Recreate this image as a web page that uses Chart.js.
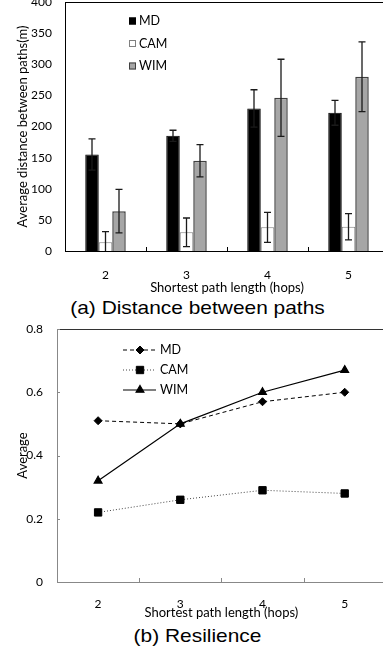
<!DOCTYPE html>
<html>
<head>
<meta charset="utf-8">
<script src="https://cdn.jsdelivr.net/npm/chart.js@4.4.1/dist/chart.umd.min.js"></script>
<style>
    body { margin: 0; width: 383px; height: 648px; overflow: hidden; background: #fff; position: relative; }
    canvas { position: absolute; left: 0; }
    #distChart { top: 0; }
    #resChart { top: 318px; }
    .caption {
        position: absolute; left: 0; width: 395px; text-align: center;
        font-family: "Liberation Sans", Arial, sans-serif; font-size: 19px; line-height: 22px;
        color: #000; transform: scaleX(1.1);
    }
</style>
</head>
<body>
<canvas id="distChart" width="392" height="296"></canvas>
<div class="caption" style="top:297px">(a) Distance between paths</div>
<canvas id="resChart" width="392" height="306"></canvas>
<div class="caption" style="top:625px">(b) Resilience</div>

<script>
// 資料
const hops = ['2', '3', '4', '5'];
const seriesNames = ['MD', 'CAM', 'WIM'];

const mdDist = [155, 185, 229, 222];
const mdDistErr = [25, 9, 30, 20];
const camDist = [14, 30, 38, 39];
const camDistErr = [17, 23, 24, 21];
const wimDist = [64, 145, 246, 280];
const wimDistErr = [35, 26, 62, 56];
const distTicks = [0, 50, 100, 150, 200, 250, 300, 350, 400];

const mdRes = [0.51, 0.50, 0.57, 0.60];
const camRes = [0.22, 0.26, 0.29, 0.28];
const wimRes = [0.32, 0.50, 0.60, 0.67];
const resTicks = [0, 0.2, 0.4, 0.6, 0.8];

const tickFont = { family: 'Lato', size: 12 };
const titleFont = { family: 'Lato', size: 13 };

// 不讓刻度標籤把繪圖區往內推
function noLabelPadding(s) {
    s.paddingTop = 0;
    s.paddingBottom = 0;
}

// 誤差線
const errorBars = {
    id: 'errorBars',
    afterDatasetsDraw(chart) {
        const ctx = chart.ctx;
        const y = chart.scales.y;
        chart.data.datasets.forEach((ds, i) => {
            if (!ds.errors) return;
            const meta = chart.getDatasetMeta(i);
            ctx.save();
            ctx.strokeStyle = '#1a1a1a';
            ctx.lineWidth = 1.3;
            meta.data.forEach((bar, j) => {
                const v = ds.data[j];
                const e = ds.errors[j];
                const top = y.getPixelForValue(v + e);
                const lo = v - e;
                const bot = y.getPixelForValue(Math.max(0, lo));
                ctx.beginPath();
                ctx.moveTo(bar.x, top);
                ctx.lineTo(bar.x, bot);
                ctx.moveTo(bar.x - 3.5, top);
                ctx.lineTo(bar.x + 3.5, top);
                if (lo > 0) {
                    ctx.moveTo(bar.x - 3.5, bot);
                    ctx.lineTo(bar.x + 3.5, bot);
                }
                ctx.stroke();
            });
            ctx.restore();
        });
    }
};

// 外框與內側刻度
const frame = {
    id: 'frame',
    afterDraw(chart, args, opts) {
        const { ctx, chartArea: a } = chart;
        ctx.save();
        ctx.lineWidth = 1;
        ctx.strokeStyle = opts.color;
        ctx.beginPath();
        ctx.moveTo(a.left, a.top + 0.5);
        ctx.lineTo(a.right, a.top + 0.5);
        ctx.lineTo(a.right, a.bottom);
        ctx.stroke();

        ctx.strokeStyle = opts.tickColor;
        const x = chart.scales.x;
        for (let i = 0; i < x.ticks.length - 1; i++) {
            const px = Math.round((x.getPixelForValue(i) + x.getPixelForValue(i + 1)) / 2) + 0.5;
            ctx.beginPath();
            ctx.moveTo(px, a.bottom);
            ctx.lineTo(px, a.bottom - 4);
            ctx.stroke();
        }
        if (opts.yTicks) {
            const y = chart.scales.y;
            y.ticks.forEach(t => {
                const py = Math.round(y.getPixelForValue(t.value)) + 0.5;
                ctx.beginPath();
                ctx.moveTo(a.left, py);
                ctx.lineTo(a.left + 3, py);
                ctx.stroke();
            });
        }
        ctx.restore();
    }
};

// 圖內圖例
const insideLegend = {
    id: 'insideLegend',
    afterDraw(chart, args, opts) {
        const { ctx, chartArea: a } = chart;
        ctx.save();
        ctx.font = opts.font;
        ctx.textBaseline = 'middle';
        chart.data.datasets.forEach((ds, i) => {
            const cy = a.top + opts.y + i * opts.gap;
            const lx = a.left + opts.x;
            if (opts.kind === 'box') {
                ctx.fillStyle = ds.backgroundColor;
                ctx.strokeStyle = ds.borderColor;
                ctx.lineWidth = 1;
                ctx.fillRect(lx, cy - 3.5, 7, 7);
                ctx.strokeRect(lx + 0.5, cy - 3, 6, 6);
                ctx.fillStyle = '#000';
                ctx.fillText(ds.label, lx + 10, cy);
            } else {
                ctx.strokeStyle = ds.borderColor;
                ctx.lineWidth = ds.borderWidth;
                ctx.setLineDash(ds.borderDash || []);
                ctx.beginPath();
                ctx.moveTo(lx, cy);
                ctx.lineTo(lx + 33, cy);
                ctx.stroke();
                ctx.setLineDash([]);
                ctx.fillStyle = ds.pointBackgroundColor;
                ctx.strokeStyle = ds.pointBackgroundColor;
                Chart.helpers.drawPoint(ctx, { pointStyle: ds.pointStyle, radius: ds.pointRadius, rotation: 0, borderWidth: 1 }, lx + 17, cy);
                ctx.fillStyle = '#000';
                ctx.fillText(ds.label, lx + 37, cy);
            }
        });
        ctx.restore();
    }
};

// (a) 路徑間距離
new Chart(document.getElementById('distChart').getContext('2d'), {
    type: 'bar',
    data: {
        labels: hops,
        datasets: [
            { label: seriesNames[0], data: mdDist, errors: mdDistErr, backgroundColor: '#000000', borderColor: '#000000', borderWidth: 1 },
            { label: seriesNames[1], data: camDist, errors: camDistErr, backgroundColor: '#ffffff', borderColor: '#808080', borderWidth: 1 },
            { label: seriesNames[2], data: wimDist, errors: wimDistErr, backgroundColor: '#a6a6a6', borderColor: '#404040', borderWidth: 1.5 }
        ]
    },
    options: {
        responsive: false,
        animation: false,
        layout: { padding: { top: 2, right: 3, left: 0, bottom: 0 } },
        datasets: { bar: { categoryPercentage: 0.5, barPercentage: 1.0 } },
        plugins: {
            legend: { display: false },
            tooltip: { enabled: false },
            frame: { color: '#000', tickColor: '#000', yTicks: false },
            insideLegend: { kind: 'box', x: 64, y: 19, gap: 22.5, font: '12.5px Lato' }
        },
        scales: {
            x: {
                grid: { display: false, drawTicks: false },
                border: { color: '#000', width: 1 },
                ticks: { font: tickFont, color: '#000', padding: 17 },
                title: { display: true, text: 'Shortest path length (hops)', font: titleFont, color: '#000', padding: { top: 0, bottom: 0 } },
                afterFit: s => { s.height = 45; }
            },
            y: {
                min: 0,
                max: 400,
                afterBuildTicks: s => { s.ticks = distTicks.map(v => ({ value: v })); },
                grid: { display: false, drawTicks: false },
                border: { color: '#000', width: 1 },
                ticks: { font: tickFont, color: '#000', padding: 13 },
                title: { display: true, text: 'Average distance between paths(m)', font: titleFont, color: '#000', padding: { top: 15, bottom: 0 } },
                afterFit: s => { s.width = 65; noLabelPadding(s); }
            }
        }
    },
    plugins: [errorBars, frame, insideLegend]
});

// (b) 韌性
new Chart(document.getElementById('resChart').getContext('2d'), {
    type: 'line',
    data: {
        labels: hops,
        datasets: [
            { label: seriesNames[0], data: mdRes, borderColor: '#000', borderWidth: 1, borderDash: [4, 3], pointStyle: 'rectRot', pointRadius: 4, pointBackgroundColor: '#000', pointBorderColor: '#000' },
            { label: seriesNames[1], data: camRes, borderColor: '#444', borderWidth: 1, borderDash: [1, 2], pointStyle: 'rect', pointRadius: 5.2, pointBackgroundColor: '#000', pointBorderColor: '#000' },
            { label: seriesNames[2], data: wimRes, borderColor: '#000', borderWidth: 1.2, pointStyle: 'triangle', pointRadius: 4.5, pointBackgroundColor: '#000', pointBorderColor: '#000' }
        ]
    },
    options: {
        responsive: false,
        animation: false,
        layout: { padding: { top: 11, right: 3, left: 0, bottom: 0 } },
        plugins: {
            legend: { display: false },
            tooltip: { enabled: false },
            frame: { color: '#333', tickColor: '#888', yTicks: true },
            insideLegend: { kind: 'line', x: 66, y: 21, gap: 20, font: '12.5px Lato' }
        },
        scales: {
            x: {
                offset: true,
                grid: { display: false, drawTicks: false },
                border: { color: '#888', width: 1 },
                ticks: { font: tickFont, color: '#000', padding: 15 },
                title: { display: true, text: 'Shortest path length (hops)', font: titleFont, color: '#000', padding: { top: 0, bottom: 3 } },
                afterFit: s => { s.height = 42; }
            },
            y: {
                min: 0,
                max: 0.8,
                afterBuildTicks: s => { s.ticks = resTicks.map(v => ({ value: v })); },
                grid: { display: false, drawTicks: false },
                border: { color: '#888', width: 1 },
                ticks: { font: tickFont, color: '#000', padding: 14 },
                title: { display: true, text: 'Average', font: titleFont, color: '#000', padding: { top: 15, bottom: 0 } },
                afterFit: s => { s.width = 57; noLabelPadding(s); }
            }
        }
    },
    plugins: [frame, insideLegend]
});
</script>
</body>
</html>
